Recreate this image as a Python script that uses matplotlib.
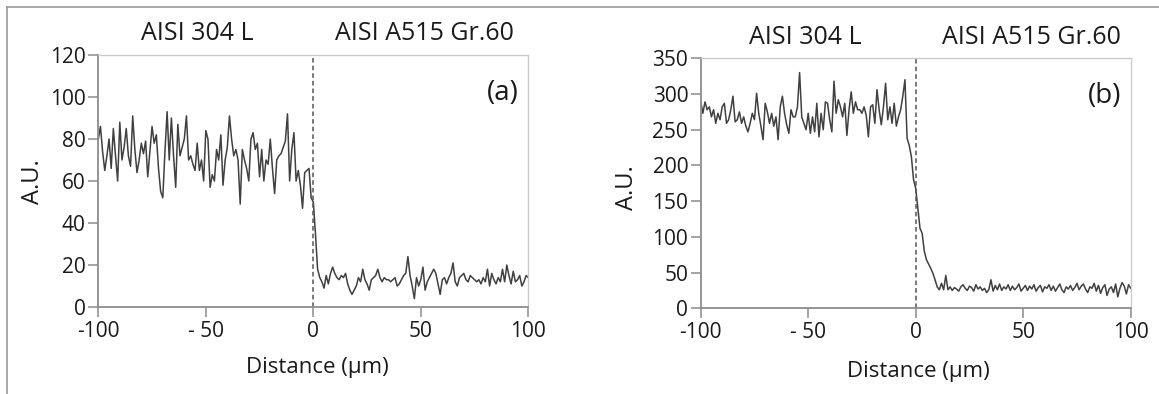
import numpy as np
import matplotlib.pyplot as plt
from matplotlib.lines import Line2D

plt.rcParams['font.family'] = ['Open Sans', 'DejaVu Sans']

# distance grid, 1 um step
distance = np.arange(-100, 101)

# line profile (a), A.U.
signal_a = [
    80, 86, 74, 65, 72, 80, 66, 85, 72, 60,
    88, 70, 76, 85, 72, 67, 91, 75, 64, 70,
    78, 73, 79, 62, 74, 86, 78, 82, 66, 55,
    52, 74, 93, 70, 90, 72, 57, 87, 72, 76,
    80, 91, 70, 72, 68, 65, 78, 65, 70, 60,
    84, 80, 57, 63, 60, 75, 70, 82, 58, 70,
    76, 91, 80, 72, 75, 70, 49, 75, 70, 66,
    60, 80, 83, 75, 78, 62, 75, 60, 70, 68,
    80, 66, 54, 70, 72, 73, 76, 79, 92, 60,
    75, 83, 60, 65, 58, 47, 64, 65, 66, 52,
    50, 35, 18, 14, 12, 9, 15, 11, 16, 19,
    16, 14, 13, 15, 14, 16, 11, 8, 6, 8,
    10, 14, 12, 18, 13, 11, 8, 13, 14, 15,
    18, 14, 12, 14, 13, 13, 12, 13, 14, 10,
    11, 13, 15, 16, 24, 15, 10, 4, 14, 10,
    13, 19, 8, 12, 14, 16, 18, 16, 11, 6,
    13, 14, 11, 14, 16, 21, 12, 10, 14, 15,
    16, 13, 12, 15, 14, 13, 12, 13, 11, 14,
    12, 18, 10, 16, 13, 11, 14, 12, 18, 12,
    20, 15, 11, 17, 12, 13, 15, 10, 12, 15,
    14,
]

# line profile (b), A.U.
signal_b = [
    290, 273, 289, 278, 282, 268, 278, 259, 273, 264,
    282, 287, 259, 264, 278, 297, 261, 264, 275, 259,
    268, 255, 247, 259, 273, 264, 301, 273, 255, 236,
    287, 275, 259, 273, 255, 268, 236, 282, 297, 273,
    257, 245, 278, 268, 268, 282, 330, 268, 259, 250,
    273, 245, 268, 247, 287, 240, 273, 250, 289, 287,
    264, 247, 318, 273, 292, 282, 268, 287, 242, 278,
    303, 273, 289, 278, 278, 273, 282, 270, 240, 282,
    285, 259, 306, 278, 257, 282, 315, 264, 282, 259,
    287, 255, 268, 278, 297, 320, 238, 228, 212, 180,
    168, 140, 112, 105, 80, 68, 62, 56, 49, 40,
    30, 26, 35, 26, 46, 26, 30, 25, 29, 27,
    24, 30, 33, 28, 25, 31, 29, 24, 33, 27,
    30, 25, 28, 22, 26, 40, 24, 32, 26, 34,
    25, 30, 27, 33, 25, 31, 26, 29, 34, 24,
    28, 32, 25, 31, 27, 33, 24, 29, 32, 23,
    30, 28, 33, 25, 31, 24, 29, 34, 26, 22,
    30, 27, 32, 25, 29, 35, 26, 31, 34, 27,
    22, 30, 28, 35, 24, 32, 21, 29, 33, 18,
    27, 30, 22, 34, 16, 28, 36, 31, 20, 33,
    28,
]

xticks = [-100, -50, 0, 50, 100]
xtick_labels = ['-100', '- 50', '0', '50', '100']
yticks_a = [0, 20, 40, 60, 80, 100, 120]
yticks_b = [0, 50, 100, 150, 200, 250, 300, 350]

W, H = 1159, 394
TXT = '#1a1a1a'
fig = plt.figure(figsize=(W / 100, H / 100), dpi=100)


def px(x, y):
    return x / W, 1 - y / H


def draw_panel(rect, values, ymax, yticks, tag):
    ax = fig.add_axes(rect)
    ax.plot(distance, values, color='#404040', lw=1.1)
    ax.axvline(0, color='#555555', lw=1.1, ls=(0, (3, 2)))
    ax.set_xlim(-100, 100)
    ax.set_ylim(0, ymax)
    ax.set_xticks(xticks)
    ax.set_xticklabels(xtick_labels)
    ax.set_yticks(yticks)
    for s in ['top', 'right']:
        ax.spines[s].set_color('#cccccc')
        ax.spines[s].set_linewidth(1.0)
    for s in ['left', 'bottom']:
        ax.spines[s].set_color('#8c8c8c')
        ax.spines[s].set_linewidth(1.3)
    ax.tick_params(direction='out', length=7, width=1.1, color='#8c8c8c',
                   labelsize=15, labelcolor=TXT)
    ax.tick_params(axis='y', pad=2)
    ax.tick_params(axis='x', pad=3)
    ax.text(0.94, 0.85, tag, transform=ax.transAxes, ha='center', va='center',
            fontsize=20, color=TXT)
    return ax


draw_panel([98.3 / W, 1 - 307 / H, 430 / W, 252 / H], signal_a, 120,
           yticks_a, '(a)')
draw_panel([700.7 / W, 1 - 308.3 / H, 430 / W, 250 / H], signal_b, 350,
           yticks_b, '(b)')

# header labels and axis titles
fig.text(*px(197, 33), 'AISI 304 L', ha='center', va='center', fontsize=18, color=TXT)
fig.text(*px(424, 33), 'AISI A515 Gr.60', ha='center', va='center', fontsize=18, color=TXT)
fig.text(*px(805, 37), 'AISI 304 L', ha='center', va='center', fontsize=18, color=TXT)
fig.text(*px(1031, 37), 'AISI A515 Gr.60', ha='center', va='center', fontsize=18, color=TXT)

fig.text(*px(33, 182), 'A.U.', rotation=90, ha='center', va='center', fontsize=17, color=TXT)
fig.text(*px(627, 188), 'A.U.', rotation=90, ha='center', va='center', fontsize=17, color=TXT)
fig.text(*px(317, 368), 'Distance (μm)', ha='center', va='center', fontsize=16, color=TXT)
fig.text(*px(918, 372), 'Distance (μm)', ha='center', va='center', fontsize=16, color=TXT)

# outer frame (top and left edges)
fig.add_artist(Line2D([7 / W, 1], [1 - 7 / H, 1 - 7 / H], transform=fig.transFigure,
                      color='#9a9a9a', lw=1.2))
fig.add_artist(Line2D([7 / W, 7 / W], [0, 1 - 7 / H], transform=fig.transFigure,
                      color='#9a9a9a', lw=1.2))

fig.savefig('out.png', dpi=100)
